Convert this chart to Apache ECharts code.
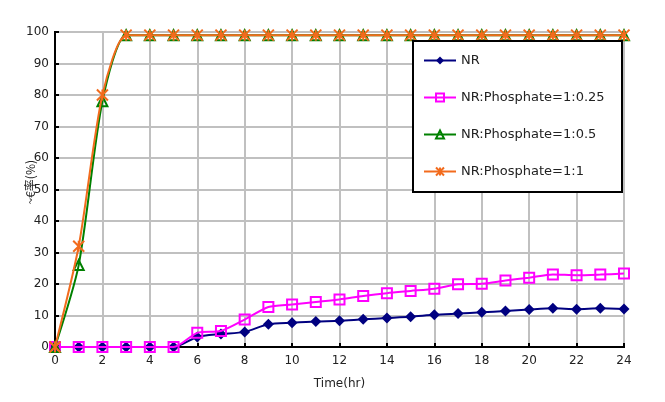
<!DOCTYPE html>
<html><head><meta charset="utf-8">
<script src="https://cdn.jsdelivr.net/npm/echarts@6/dist/echarts.min.js"></script>
<style>html,body{margin:0;padding:0;background:#fff}#c{width:665px;height:402px}</style>
</head><body><div id="c"></div>
<script>
const hours = [0,1,2,3,4,5,6,7,8,9,10,11,12,13,14,15,16,17,18,19,20,21,22,23,24];
const seriesNames = ['NR','NR:Phosphate=1:0.25','NR:Phosphate=1:0.5','NR:Phosphate=1:1'];
const nr      = [0,0,0,0,0,0,3.2,4.1,4.8,7.2,7.7,8.1,8.3,8.8,9.2,9.6,10.2,10.6,11,11.4,11.9,12.3,12,12.3,12.1];
const nr025   = [0,0,0,0,0,0,4.5,5.1,8.7,12.7,13.5,14.3,15.1,16.2,17.1,17.8,18.5,19.9,20.1,21.1,22,23,22.8,23,23.3];
const nr05    = [0,26,78,99,99,99,99,99,99,99,99,99,99,99,99,99,99,99,99,99,99,99,99,99,99];
const nr1     = [0,32,80,99,99,99,99,99,99,99,99,99,99,99,99,99,99,99,99,99,99,99,99,99,99];
const xTicks = [0,2,4,6,8,10,12,14,16,18,20,22,24];
const yTicks = [0,10,20,30,40,50,60,70,80,90,100];

const chart = echarts.init(document.getElementById('c'), null, {renderer:'canvas'});
const font = 'DejaVu Sans';
function pts(arr){ return hours.map((h,i)=>[h,arr[i]]); }
const starPath = 'path://M0,0L10,10M10,0L0,10M5,0L5,10';
chart.setOption({
  animation:false,
  backgroundColor:'#fff',
  grid:{left:55,right:41,top:32,bottom:55,show:true,borderColor:'#000',borderWidth:2},
  xAxis:{type:'value',min:0,max:24,interval:2,
    name:'Time(hr)',nameLocation:'middle',nameGap:31,
    nameTextStyle:{fontFamily:font,fontSize:12,color:'#222'},
    axisLine:{lineStyle:{color:'#000',width:2}},
    axisTick:{inside:true,length:4,lineStyle:{color:'#000',width:2}},
    axisLabel:{fontFamily:font,fontSize:12,color:'#222',margin:8,formatter:v=>xTicks.includes(v)?String(v):''},
    splitLine:{lineStyle:{color:'#c0c0c0',width:2}}},
  yAxis:{type:'value',min:0,max:100,interval:10,
    axisLine:{show:true,lineStyle:{color:'#000',width:2}},
    axisTick:{show:true,inside:true,length:4,lineStyle:{color:'#000',width:2}},
    axisLabel:{fontFamily:font,fontSize:12,color:'#222',margin:6,formatter:v=>yTicks.includes(v)?String(v):''},
    splitLine:{lineStyle:{color:'#c0c0c0',width:2}}},
  legend:{orient:'vertical',left:418,top:49,itemGap:24,itemWidth:32,itemHeight:10,z:20,
    textStyle:{fontFamily:font,fontSize:13,color:'#222'},
    data:seriesNames},
  graphic:[
    {type:'rect',z:15,shape:{x:413,y:41,width:209,height:151},style:{fill:'#fff',stroke:'#000',lineWidth:2}},
    {type:'text',z:15,left:24,top:160,rotation:Math.PI/2,style:{text:'~€率(%)',font:'12px "Noto Sans CJK JP"',fill:'#222'}}
  ],
  series:[
    {name:seriesNames[0],type:'line',data:pts(nr),smooth:0.25,z:3,symbol:'diamond',symbolSize:11,
      lineStyle:{color:'#000080',width:2},itemStyle:{color:'#000080'}},
    {name:seriesNames[1],type:'line',data:pts(nr025),smooth:0.25,z:4,symbol:'rect',symbolSize:10,
      lineStyle:{color:'#ff00ff',width:2},itemStyle:{color:'rgba(255,255,255,0)',borderColor:'#ff00ff',borderWidth:2}},
    {name:seriesNames[2],type:'line',data:pts(nr05),smooth:0.25,z:5,symbol:'triangle',symbolSize:10,
      lineStyle:{color:'#008000',width:2},itemStyle:{color:'rgba(255,255,255,0)',borderColor:'#008000',borderWidth:2}},
    {name:seriesNames[3],type:'line',data:pts(nr1),smooth:0.25,z:6,symbol:starPath,symbolSize:11,
      lineStyle:{color:'#f26b1d',width:2},itemStyle:{color:'rgba(255,255,255,0)',borderColor:'#f26b1d',borderWidth:2}}
  ]
});
</script></body></html>
